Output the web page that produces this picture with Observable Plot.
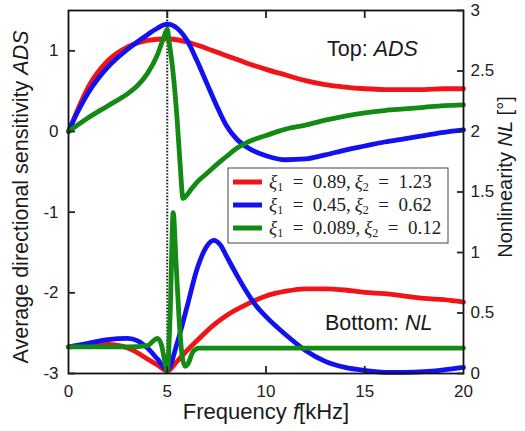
<!DOCTYPE html>
<html>
<head>
<meta charset="utf-8">
<script src="https://cdn.jsdelivr.net/npm/d3@7"></script>
<script src="https://cdn.jsdelivr.net/npm/@observablehq/plot@0.6"></script>
<style>
  html, body { margin: 0; padding: 0; background: #fff; }
  #chart { width: 525px; height: 431px; }
</style>
</head>
<body>
<div id="chart"></div>
<script>
// ---- Data ----
// Top: Average directional sensitivity ADS (left axis)
const fAdsRed  = [0,0.5,1,2,3,4,5,6,7,8,9,10,11,12,13,14,15,16,17,18,19,20];
const adsRed   = [0,0.29,0.55,0.88,1.05,1.13,1.15,1.11,1.03,0.94,0.85,0.77,0.70,0.63,0.58,0.55,0.53,0.52,0.52,0.52,0.53,0.53];
const fAdsBlue = [0,0.5,1,2,3,4,4.5,5,5.5,6,6.5,7,7.5,8,8.5,9,10,11,12,13,14,15,16,17,18,19,20];
const adsBlue  = [0,0.26,0.48,0.80,1.02,1.20,1.28,1.33,1.28,1.13,0.88,0.60,0.32,0.07,-0.09,-0.19,-0.30,-0.35,-0.34,-0.29,-0.23,-0.18,-0.13,-0.09,-0.05,-0.01,0.02];
const fAdsGreen = [0,1,2,3,3.5,4,4.5,4.8,5,5.1,5.3,5.5,5.65,5.8,5.95,6.2,6.5,7,7.5,8,8.5,9,10,11,12,13,14,15,16,17,18,19,20];
const adsGreen  = [0,0.17,0.32,0.47,0.57,0.72,0.95,1.15,1.27,1.1,0.72,0.15,-0.4,-0.83,-0.80,-0.72,-0.63,-0.52,-0.41,-0.31,-0.21,-0.14,-0.05,0.03,0.08,0.14,0.19,0.23,0.26,0.28,0.30,0.32,0.33];

// Bottom: Nonlinearity NL [deg] (right axis)
const fNlRed  = [0,1,2,3,3.5,4,4.5,5,5.5,6,6.5,7,7.5,8,9,10,11,12,13,14,15,16,17,18,19,20];
const nlRed   = [0.22,0.23,0.24,0.21,0.17,0.12,0.07,0.02,0.10,0.19,0.27,0.35,0.42,0.48,0.57,0.64,0.68,0.70,0.70,0.69,0.67,0.66,0.64,0.62,0.61,0.59];
const fNlBlue = [0,1,2,3,3.5,4,4.5,5,5.5,6,6.5,7,7.35,7.7,8,8.5,9,9.5,10,11,12,13,14,15,16,17,18,19,20];
const nlBlue  = [0.22,0.25,0.28,0.29,0.27,0.21,0.12,0.03,0.25,0.55,0.86,1.05,1.10,1.06,0.97,0.82,0.68,0.56,0.47,0.32,0.19,0.10,0.05,0.025,0.01,0.01,0.015,0.03,0.05];
const fNlGreen = [0,1,2,3,4,4.3,4.5,4.7,4.85,5,5.15,5.3,5.45,5.6,5.75,5.9,6.05,6.3,6.6,7,10,15,20];
const nlGreen  = [0.22,0.22,0.22,0.22,0.23,0.27,0.29,0.24,0.12,0.02,0.5,1.33,0.9,0.45,0.15,0.06,0.08,0.18,0.21,0.21,0.21,0.21,0.21];

const xTicks = [0,5,10,15,20];
const adsTicks = [-3,-2,-1,0,1];
const nlTicks = [0,0.5,1,1.5,2,2.5,3];
const resonance = [5];

const seriesColors = ["#f01418", "#1212f0", "#138a13"];
const legendLabels = [["0.89","1.23"],["0.45","0.62"],["0.089","0.12"]];

// NL is drawn on the shared y scale: NL 0..3 maps onto ADS -3..1.5
const nlToY = v => -3 + 1.5 * v;
const yToNl = y => (y + 3) / 1.5;

const toRows = (fs, vs) => fs.map((f, i) => ({f, v: vs[i]}));
const toRowsNl = (fs, vs) => fs.map((f, i) => ({f, v: nlToY(vs[i])}));

const lineOpts = (color) => ({x: "f", y: "v", stroke: color, strokeWidth: 4.8, curve: "monotone-x", strokeLinejoin: "round"});

const chart = Plot.plot({
  width: 525,
  height: 431,
  marginLeft: 68,
  marginRight: 62,
  marginTop: 10,
  marginBottom: 58,
  x: {domain: [0, 20]},
  y: {domain: [-3, 1.5]},
  style: {fontFamily: "'Liberation Sans', Arial, sans-serif", fontSize: "17px", color: "#222", background: "#fff"},
  marks: [
    Plot.ruleX(resonance, {stroke: "#222", strokeWidth: 2, strokeDasharray: "1.6,1.6"}),
    Plot.line(toRows(fAdsRed, adsRed), lineOpts(seriesColors[0])),
    Plot.line(toRows(fAdsBlue, adsBlue), lineOpts(seriesColors[1])),
    Plot.line(toRows(fAdsGreen, adsGreen), lineOpts(seriesColors[2])),
    Plot.line(toRowsNl(fNlRed, nlRed), lineOpts(seriesColors[0])),
    Plot.line(toRowsNl(fNlBlue, nlBlue), lineOpts(seriesColors[1])),
    Plot.line(toRowsNl(fNlGreen, nlGreen), lineOpts(seriesColors[2])),
    Plot.frame({stroke: "#111", strokeWidth: 1.8}),
    // x axis labels and inward ticks (bottom and top)
    Plot.axisX({ticks: xTicks, tickSize: 0, tickPadding: 11, tickFormat: d => String(d), label: null, fontSize: 17}),
    Plot.axisX({ticks: [5,10,15], tickSize: -7, tickFormat: () => "", label: null, strokeWidth: 1.8}),
    Plot.axisX({anchor: "top", ticks: [5,10,15], tickSize: -7, tickFormat: () => "", label: null, strokeWidth: 1.8}),
    // left ADS axis
    Plot.axisY({ticks: adsTicks, tickSize: 0, tickPadding: 10, tickFormat: d => String(d), label: null, fontSize: 17}),
    Plot.axisY({ticks: adsTicks, tickSize: -7, tickFormat: () => "", label: null, strokeWidth: 1.8}),
    // right NL axis
    Plot.axisY({anchor: "right", ticks: nlTicks.map(nlToY), tickSize: 0, tickPadding: 7, tickFormat: d => String(+yToNl(d).toFixed(2)), label: null, fontSize: 17}),
    Plot.axisY({anchor: "right", ticks: nlTicks.map(nlToY), tickSize: -7, tickFormat: () => "", label: null, strokeWidth: 1.8})
  ]
});

document.getElementById("chart").appendChild(chart);

const svg = d3.select(chart);
const sans = "'Liberation Sans', Arial, sans-serif";
const serif = "'Liberation Serif', 'Times New Roman', serif";

function richText(x, y, parts, opts = {}) {
  const t = svg.append("text")
    .attr("x", x).attr("y", y)
    .attr("font-family", opts.family || sans)
    .attr("font-size", opts.size || 18)
    .attr("fill", "#1a1a1a")
    .attr("text-anchor", opts.anchor || "start");
  if (opts.rotate) t.attr("transform", `rotate(${opts.rotate},${x},${y})`);
  parts.forEach(p => {
    const s = t.append("tspan").text(p.t);
    if (p.i) s.attr("font-style", "italic");
  });
  return t;
}

// Axis titles
richText(28, 197, [{t: "Average directional sensitivity "}, {t: "ADS", i: true}], {anchor: "middle", rotate: -90, size: 21.5});
richText(512, 177, [{t: "Nonlinearity "}, {t: "NL", i: true}, {t: " [°]"}], {anchor: "middle", rotate: -90, size: 20});
richText(266, 419, [{t: "Frequency "}, {t: "f", i: true}, {t: "[kHz]"}], {anchor: "middle", size: 22});

// In-plot annotations
richText(327, 56, [{t: "Top: "}, {t: "ADS", i: true}], {size: 21.5});
richText(325, 330, [{t: "Bottom: "}, {t: "NL", i: true}], {size: 21.5});

// Legend
const sp = "\u2002"; // math-like spacing around "="
const lg = svg.append("g");
lg.append("rect").attr("x", 228).attr("y", 168).attr("width", 220).attr("height", 75)
  .attr("fill", "#fff").attr("stroke", "#444").attr("stroke-width", 1);
legendLabels.forEach((lab, i) => {
  const cy = 182 + i * 23;
  lg.append("line").attr("x1", 233).attr("x2", 262).attr("y1", cy).attr("y2", cy)
    .attr("stroke", seriesColors[i]).attr("stroke-width", 5);
  const t = lg.append("text").attr("x", 269).attr("y", cy + 6)
    .attr("text-anchor", "start")
    .attr("font-family", serif).attr("font-size", 19).attr("fill", "#222");
  t.append("tspan").attr("font-style", "italic").text("ξ");
  t.append("tspan").attr("font-size", 12).attr("dy", 3).text("1");
  t.append("tspan").attr("dy", -3).text(sp + "=" + sp + lab[0] + ",\u2009");
  t.append("tspan").attr("font-style", "italic").text("ξ");
  t.append("tspan").attr("font-size", 12).attr("dy", 3).text("2");
  t.append("tspan").attr("dy", -3).text(sp + "=" + sp + lab[1]);
});
</script>
</body>
</html>
